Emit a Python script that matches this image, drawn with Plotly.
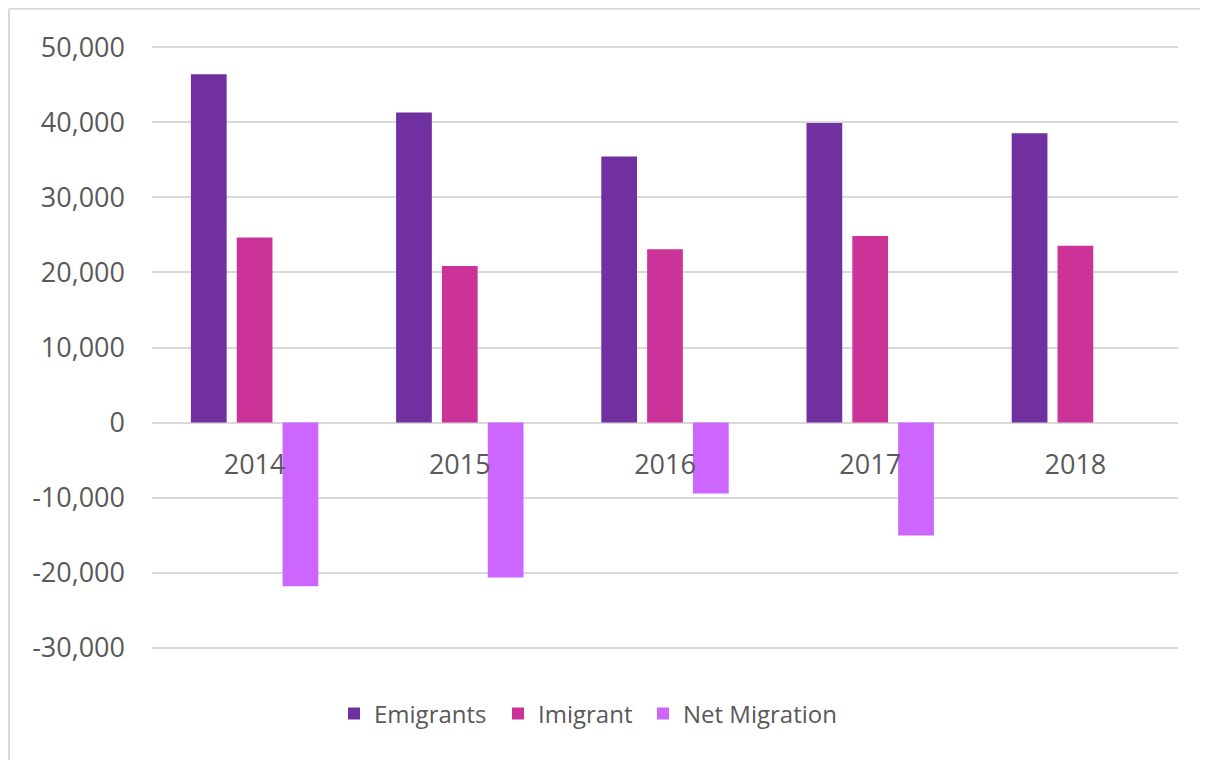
import plotly.graph_objects as go

years = ["2014", "2015", "2016", "2017", "2018"]
emigrants = [46400, 41300, 35450, 39900, 38550]
imigrant = [24650, 20870, 23100, 24870, 23550]
net_migration = [-21800, -20650, -9450, -15050, None]

y_tick_vals = [-30000, -20000, -10000, 0, 10000, 20000, 30000, 40000, 50000]
y_tick_text = ["-30,000", "-20,000", "-10,000", "0", "10,000", "20,000", "30,000", "40,000", "50,000"]

series_names = ["Emigrants", "Imigrant", "Net Migration"]
series_colors = ["#7030A0", "#CC3399", "#CC66FF"]
series_values = [emigrants, imigrant, net_migration]

FONT = "Open Sans"
TXT = "#595959"
GRID = "#D9D9D9"

W, H = 1208, 760
ML, MR, MT, MB = 144, 38, 37, 118
PW, PH = W - ML - MR, H - MT - MB

def px_x(fx):  # figure pixel -> paper x
    return (fx - ML) / PW

def px_y(fy):  # figure pixel -> paper y
    return (H - MB - fy) / PH

legend_ids = ["legend", "legend2", "legend3"]
legend_left_px = [326, 490, 635]

fig = go.Figure()
for name, col, vals, lid in zip(series_names, series_colors, series_values, legend_ids):
    fig.add_trace(go.Bar(x=years, y=vals, name=name, legend=lid,
                         marker=dict(color=col, line=dict(width=0))))

pad = 300
ymin, ymax = y_tick_vals[0] - pad, y_tick_vals[-1] + pad
zero_pos = -ymin / (ymax - ymin)

legend_common = dict(orientation="h", xanchor="left", y=px_y(706), yanchor="middle",
                     font=dict(size=24, color=TXT), itemwidth=30,
                     bgcolor="rgba(0,0,0,0)")

fig.update_layout(
    width=W, height=H,
    margin=dict(l=ML, r=MR, t=MT, b=MB),
    paper_bgcolor="white", plot_bgcolor="white",
    barmode="group", bargap=0.33, bargroupgap=0.22,
    font=dict(family=FONT, color=TXT, size=24),
    showlegend=True,
    legend=dict(x=px_x(legend_left_px[0]), **legend_common),
    legend2=dict(x=px_x(legend_left_px[1]), **legend_common),
    legend3=dict(x=px_x(legend_left_px[2]), **legend_common),
    xaxis=dict(anchor="free", position=zero_pos, showline=False, showgrid=False,
               ticks="", tickfont=dict(size=27, color=TXT), ticklabelstandoff=23),
    yaxis=dict(range=[ymin, ymax], tickvals=y_tick_vals, ticktext=y_tick_text,
               showgrid=True, gridcolor=GRID, gridwidth=2,
               zeroline=True, zerolinecolor=GRID, zerolinewidth=2,
               showline=False, ticks="", tickfont=dict(size=27, color=TXT),
               ticklabelstandoff=26),
)

# outer chart border (light grey frame partially visible)
bx, by = px_x(1), px_y(0.8)
fig.add_shape(type="line", xref="paper", yref="paper", x0=bx, x1=bx, y0=-0.3, y1=by,
              line=dict(color=GRID, width=2))
fig.add_shape(type="line", xref="paper", yref="paper", x0=bx, x1=1.1, y0=by, y1=by,
              line=dict(color=GRID, width=2))

fig.write_html("out.html")
